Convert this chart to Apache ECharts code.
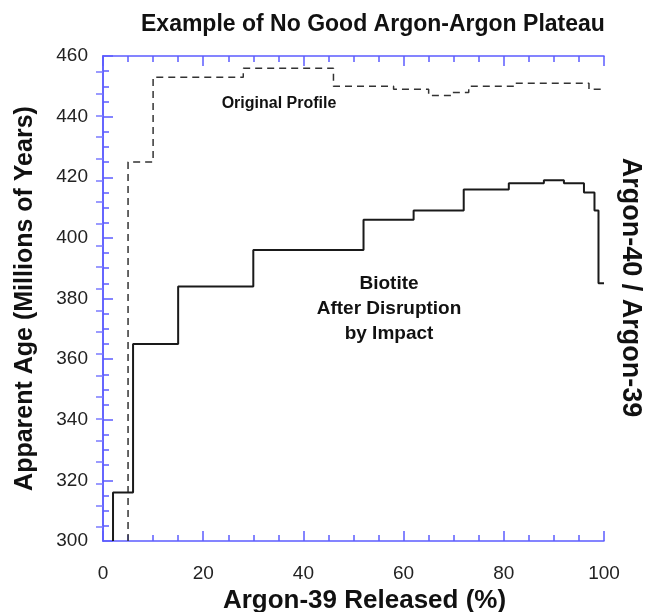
<!DOCTYPE html>
<html><head><meta charset="utf-8">
<script src="https://cdn.jsdelivr.net/npm/echarts@6/dist/echarts.min.js"></script>
<style>html,body{margin:0;padding:0;background:#fff}#c{width:648px;height:612px}</style>
</head><body><div id="c"></div>
<script>
// Original (undisturbed) age spectrum: step left edges (% Ar-39 released) and ages (Ma)
const origReleased = [5, 5, 10, 28, 46, 58, 65, 69.5, 73, 82, 97, 100];
const origAge      = [300, 425, 453, 456, 450, 449, 447, 448, 450, 451, 449, 449];
// Biotite after disruption by impact
const bioReleased  = [2, 2, 6, 15, 30, 52, 62, 72, 81, 88, 92, 96, 98.1, 98.9, 100];
const bioAge       = [300, 316, 365, 384, 396, 406, 409, 416, 418, 419, 418, 415, 409, 385, 385];

const titleText = 'Example of No Good Argon-Argon Plateau';
const xName = 'Argon-39 Released (%)';
const yName = 'Apparent Age (Millions of Years)';
const y2Name = 'Argon-40 / Argon-39';
const noteOriginal = 'Original Profile';
const noteBiotite = ['Biotite', 'After Disruption', 'by Impact'];

const FONT = '"Liberation Sans", Arial, sans-serif';
const AXIS = '#5c5cff';

const chart = echarts.init(document.getElementById('c'), null, {renderer: 'canvas'});

function pairs(xs, ys) { return xs.map((x, i) => [x, ys[i]]); }

const option = {
  animation: false,
  backgroundColor: '#fff',
  title: {
    text: titleText, left: 136, top: 8,
    textStyle: {fontFamily: FONT, fontSize: 23, fontWeight: 'bold', color: '#111'}
  },
  grid: [
    {left: 103, right: 44, top: 56, bottom: 71, containLabel: false, outerBoundsMode: 'none'},
    {left: 103, right: 44, top: 72, bottom: 85, containLabel: false, outerBoundsMode: 'none'}
  ],
  xAxis: [
    {
      type: 'value', gridIndex: 0, position: 'bottom', min: 0, max: 100, interval: 20,
      axisLine: {show: true, lineStyle: {color: AXIS, width: 1.5}},
      axisTick: {show: true, inside: true, length: 10, lineStyle: {color: AXIS, width: 1.5}},
      minorTick: {show: true, splitNumber: 4, length: 6, lineStyle: {color: AXIS, width: 1.5}},
      axisLabel: {fontFamily: FONT, fontSize: 19, color: '#222', margin: 23},
      splitLine: {show: false},
      name: xName, nameLocation: 'middle', nameGap: 47,
      nameTextStyle: {fontFamily: FONT, fontSize: 26, fontWeight: 'bold', color: '#111', padding: [0, 0, 0, 22]}
    },
    {
      type: 'value', gridIndex: 0, position: 'top', min: 0, max: 100, interval: 20,
      axisLine: {show: true, lineStyle: {color: AXIS, width: 1.5}},
      axisTick: {show: true, inside: true, length: 10, lineStyle: {color: AXIS, width: 1.5}},
      minorTick: {show: true, splitNumber: 4, length: 6, lineStyle: {color: AXIS, width: 1.5}},
      axisLabel: {show: false}, splitLine: {show: false}
    },
    {type: 'value', gridIndex: 1, min: 0, max: 100, show: false}
  ],
  yAxis: [
    {
      type: 'value', gridIndex: 0, position: 'left', min: 300, max: 460, interval: 20,
      axisLine: {show: true, lineStyle: {color: AXIS, width: 1.5}},
      axisTick: {show: true, inside: true, length: 10, lineStyle: {color: AXIS, width: 1.5}},
      minorTick: {show: true, splitNumber: 4, length: 6, lineStyle: {color: AXIS, width: 1.5}},
      axisLabel: {fontFamily: FONT, fontSize: 19, color: '#222', margin: 15},
      splitLine: {show: false},
      name: yName, nameLocation: 'middle', nameGap: 65,
      nameTextStyle: {fontFamily: FONT, fontSize: 25, fontWeight: 'bold', color: '#111'}
    },
    {
      type: 'value', gridIndex: 0, position: 'right', min: 0, max: 1,
      axisLine: {show: true, lineStyle: {color: AXIS, width: 1.5}},
      axisTick: {show: false}, axisLabel: {show: false}, splitLine: {show: false},
      name: y2Name, nameLocation: 'middle', nameRotate: -90, nameGap: 13,
      nameTextStyle: {fontFamily: FONT, fontSize: 27, fontWeight: 'bold', color: '#111', padding: [0, 22, 0, 0]}
    },
    {
      type: 'value', gridIndex: 1, position: 'right', min: 0, max: 21, interval: 1,
      axisLine: {show: false},
      axisTick: {show: true, inside: true, length: 7, lineStyle: {color: '#7a7aff', width: 1.5}},
      axisLabel: {show: false}, splitLine: {show: false}
    }
  ],
  series: [
    {
      name: 'Original Profile', type: 'line', step: 'end', xAxisIndex: 0, yAxisIndex: 0,
      data: pairs(origReleased, origAge), showSymbol: false, symbol: 'none',
      lineStyle: {color: '#333', width: 1.5, type: [7, 5]}, z: 3
    },
    {
      name: 'Biotite', type: 'line', step: 'end', xAxisIndex: 0, yAxisIndex: 0,
      data: pairs(bioReleased, bioAge), showSymbol: false, symbol: 'none',
      lineStyle: {color: '#1a1a1a', width: 2}, z: 4
    }
  ],
  graphic: [
    {type: 'text', x: 279, y: 104, style: {text: noteOriginal, font: 'bold 16px ' + FONT, fill: '#111', textAlign: 'center', textVerticalAlign: 'middle'}},
    {type: 'text', x: 389, y: 284, style: {text: noteBiotite[0], font: 'bold 19px ' + FONT, fill: '#111', textAlign: 'center', textVerticalAlign: 'middle'}},
    {type: 'text', x: 389, y: 309, style: {text: noteBiotite[1], font: 'bold 19px ' + FONT, fill: '#111', textAlign: 'center', textVerticalAlign: 'middle'}},
    {type: 'text', x: 389, y: 334, style: {text: noteBiotite[2], font: 'bold 19px ' + FONT, fill: '#111', textAlign: 'center', textVerticalAlign: 'middle'}}
  ]
};
chart.setOption(option);
</script>
</body></html>
